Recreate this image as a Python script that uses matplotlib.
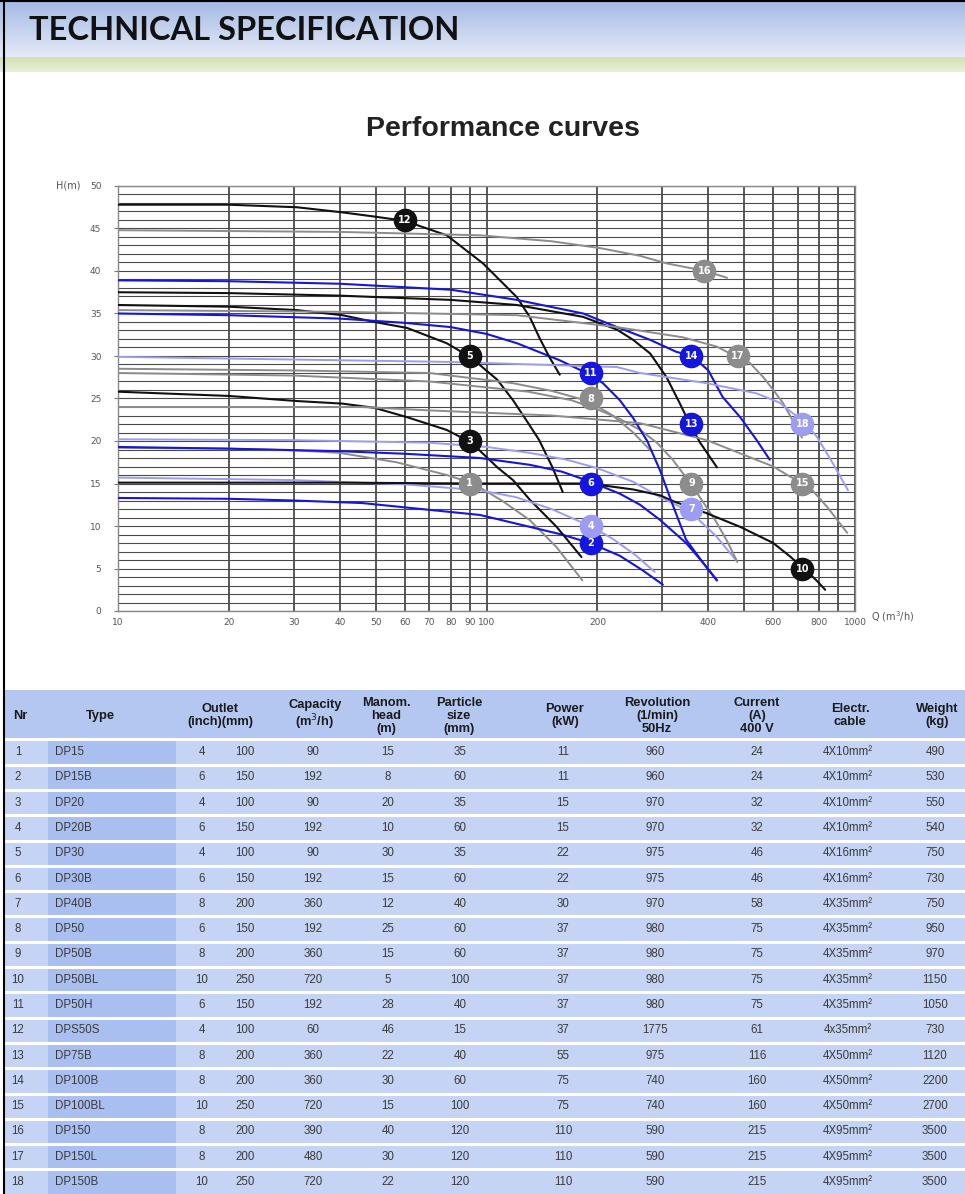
import numpy as np
import matplotlib
matplotlib.use("Agg")
import matplotlib.pyplot as plt
from matplotlib.ticker import LogLocator, MultipleLocator, NullFormatter
from matplotlib.patches import Rectangle

# ---------------- data ----------------
nr = list(range(1, 19))
types = ["DP15", "DP15B", "DP20", "DP20B", "DP30", "DP30B", "DP40B", "DP50", "DP50B",
         "DP50BL", "DP50H", "DPS50S", "DP75B", "DP100B", "DP100BL", "DP150", "DP150L", "DP150B"]
outlet_inch = [4, 6, 4, 6, 4, 6, 8, 6, 8, 10, 6, 4, 8, 8, 10, 8, 8, 10]
outlet_mm = [100, 150, 100, 150, 100, 150, 200, 150, 200, 250, 150, 100, 200, 200, 250, 200, 200, 250]
capacity = [90, 192, 90, 192, 90, 192, 360, 192, 360, 720, 192, 60, 360, 360, 720, 390, 480, 720]
head = [15, 8, 20, 10, 30, 15, 12, 25, 15, 5, 28, 46, 22, 30, 15, 40, 30, 22]
particle = [35, 60, 35, 60, 35, 60, 40, 60, 60, 100, 40, 15, 40, 60, 100, 120, 120, 120]
power = [11, 11, 15, 15, 22, 22, 30, 37, 37, 37, 37, 37, 55, 75, 75, 110, 110, 110]
revolution = [960, 960, 970, 970, 975, 975, 970, 980, 980, 980, 980, 1775, 975, 740, 740, 590, 590, 590]
current = [24, 24, 32, 32, 46, 46, 58, 75, 75, 75, 75, 61, 116, 160, 160, 215, 215, 215]
cable = ["4X10mm²", "4X10mm²", "4X10mm²", "4X10mm²", "4X16mm²", "4X16mm²", "4X35mm²", "4X35mm²",
         "4X35mm²", "4X35mm²", "4X35mm²", "4x35mm²", "4X50mm²", "4X50mm²", "4X50mm²", "4X95mm²",
         "4X95mm²", "4X95mm²"]
weight = [490, 530, 550, 540, 750, 730, 750, 950, 970, 1150, 1050, 730, 1120, 2200, 2700, 3500, 3500, 3500]

headers = ["Nr", "Type", "Outlet\n(inch)(mm)", "Capacity\n(m$^3$/h)", "Manom.\nhead\n(m)",
           "Particle\nsize\n(mm)", "Power\n(kW)", "Revolution\n(1/min)\n50Hz", "Current\n(A)\n400 V",
           "Electr.\ncable", "Weight\n(kg)"]

# performance curves (Q m3/h, H m)
curve_Q = {
    1: [10, 20, 30, 40, 57, 78, 92, 110, 131, 155, 182],
    2: [10, 20, 30, 46, 70, 96, 131, 160, 191, 230, 265, 301],
    3: [10, 20, 30.6, 40.6, 49.7, 60.9, 78, 91, 107, 118, 131, 155, 181],
    4: [10, 30, 60, 96, 120, 150, 191, 220, 255, 286],
    5: [10, 20, 30.6, 40.6, 49.7, 60.9, 78, 91, 98, 107, 118, 128, 139, 151, 161],
    6: [10, 20, 40, 60, 96, 131, 160, 189, 230, 261, 296, 348, 385, 422],
    7: [10, 30, 70, 100, 131, 165, 200, 250, 296, 330, 361, 420, 479],
    8: [10, 30, 70, 118, 150, 189, 220, 250, 280],
    9: [10, 30, 70, 130, 170, 203, 230, 261, 290, 320, 361, 390, 420, 450, 479],
    10: [10, 40, 92, 189, 250, 296, 322, 396, 488, 600, 667, 736, 790, 830],
    11: [10, 20, 40, 60, 80, 100, 121, 158, 191, 207, 230, 250, 273, 296, 320, 348, 385, 422],
    12: [10, 20, 30.6, 40.6, 49.7, 60, 78, 97.8, 108.8, 121, 131, 139, 148, 158],
    13: [10, 20, 40, 80, 121, 183, 226, 250, 278, 308, 334, 357, 380, 422],
    14: [10, 20, 40, 80, 121, 183, 226, 278, 327, 361, 400, 437, 488, 541, 587],
    15: [10, 46, 70, 150, 261, 396, 600, 667, 745, 842, 952],
    16: [10, 40, 96, 150, 203, 260, 308, 392, 450],
    17: [10, 40, 121, 226, 341, 422, 472, 518, 564, 600, 637, 676, 718],
    18: [10, 80, 226, 261, 396, 541, 625, 676, 720, 788, 870, 957],
}
curve_H = {
    1: [19.2, 19.1, 18.9, 18.6, 17.5, 16.0, 15.0, 13.0, 10.7, 7.5, 3.6],
    2: [13.3, 13.2, 13.0, 12.7, 11.9, 11.3, 9.9, 9.0, 8.0, 6.5, 4.8, 3.1],
    3: [25.8, 25.3, 24.7, 24.4, 23.9, 22.8, 21.3, 19.8, 16.9, 15.4, 13.1, 9.9, 6.35],
    4: [15.7, 15.4, 14.9, 14.2, 13.4, 12.0, 10.0, 8.5, 6.5, 4.6],
    5: [36.0, 35.8, 35.4, 34.8, 34.0, 33.3, 31.5, 29.8, 28.6, 27.2, 24.8, 22.5, 20.1, 16.9, 14.0],
    6: [19.3, 19.1, 18.8, 18.5, 18.0, 17.2, 16.4, 15.3, 13.8, 12.5, 10.7, 8.0, 5.8, 3.6],
    7: [20.2, 20.1, 19.8, 19.3, 18.6, 17.8, 16.8, 15.2, 13.4, 12.4, 11.5, 8.8, 5.8],
    8: [28.5, 28.3, 28.0, 26.8, 25.9, 24.7, 23.0, 21.0, 18.8],
    9: [28.0, 27.7, 27.0, 25.8, 24.8, 23.6, 22.6, 21.3, 19.8, 17.8, 14.8, 12.6, 10.5, 8.2, 5.8],
    10: [15.1, 15.1, 15.0, 15.0, 14.3, 13.6, 12.9, 11.5, 9.9, 8.0, 6.4, 4.8, 3.5, 2.5],
    11: [35.0, 34.8, 34.4, 33.9, 33.4, 32.6, 31.5, 29.5, 27.8, 26.8, 24.8, 22.7, 20.0, 16.5, 12.5, 8.4, 5.8, 3.6],
    12: [47.8, 47.8, 47.5, 46.9, 46.4, 45.9, 44.2, 40.9, 38.9, 36.9, 34.6, 32.2, 29.9, 27.8],
    13: [37.5, 37.4, 37.1, 36.6, 36.0, 34.6, 33.1, 31.9, 30.3, 27.5, 24.5, 21.9, 19.8, 16.9],
    14: [38.9, 38.8, 38.5, 37.8, 36.6, 35.0, 33.4, 31.9, 30.5, 30.0, 28.3, 25.2, 22.8, 20.1, 17.8],
    15: [24.0, 24.0, 23.6, 23.0, 22.1, 20.1, 17.0, 15.8, 14.8, 12.2, 9.2],
    16: [44.8, 44.6, 44.2, 43.5, 42.7, 41.8, 40.9, 40.0, 39.2],
    17: [35.4, 35.2, 34.8, 33.4, 32.2, 31.1, 30.0, 29.2, 27.5, 26.0, 24.5, 22.5, 20.4],
    18: [29.9, 29.3, 28.7, 28.0, 26.8, 25.6, 24.5, 23.3, 22.5, 20.5, 17.4, 14.2],
}
curve_kind = {1: "g", 2: "b", 3: "k", 4: "lb", 5: "k", 6: "b", 7: "lb", 8: "g", 9: "g",
              10: "k", 11: "b", 12: "k", 13: "k", 14: "b", 15: "g", 16: "g", 17: "g", 18: "lb"}
label_kind = dict(curve_kind)
label_kind[13] = "b"

xtick_vals = [10, 20, 30, 40, 50, 60, 70, 80, 90, 100, 200, 400, 600, 800, 1000]
xtick_labels = ["10", "20", "30", "40", "50", "60", "70", "80", "90", "100", "200", "400", "600", "800", "1000"]
ytick_vals = [0, 5, 10, 15, 20, 25, 30, 35, 40, 45, 50]

# ---------------- styles ----------------
COL = {"k": "#111111", "b": "#1515e0", "lb": "#9c9cf2", "g": "#8c8c8c"}
W, Hpx = 965, 1194
fig = plt.figure(figsize=(W / 100, Hpx / 100), dpi=100)
fig.patch.set_facecolor("white")

bg = fig.add_axes([0, 0, 1, 1])
bg.set_xlim(0, W)
bg.set_ylim(Hpx, 0)
bg.axis("off")

# header gradients
top = np.array([163, 185, 228]) / 255
bot = np.array([228, 234, 246]) / 255
t = np.linspace(0, 1, 60)[:, None]
grad = (top[None, :] * (1 - t) + bot[None, :] * t)[:, None, :]
bg.imshow(grad, extent=(0, W, 57, 0), aspect="auto", zorder=0)
gtop = np.array([210, 225, 178]) / 255
gbot = np.array([232, 238, 215]) / 255
t2 = np.linspace(0, 1, 20)[:, None]
grad2 = (gtop[None, :] * (1 - t2) + gbot[None, :] * t2)[:, None, :]
bg.imshow(grad2, extent=(0, W, 72, 57), aspect="auto", zorder=0)
bg.plot([4, 4], [0, Hpx], color="black", lw=1.5, zorder=5)
bg.plot([0, W], [1, 1], color="black", lw=1.5, zorder=5)

bg.text(29, 30, "TECHNICAL SPECIFICATION", fontsize=23.5, fontweight="bold", family="Lato",
        va="center", ha="left", color="#111111")
bg.text(503, 129, "Performance curves", fontsize=20.5, fontweight="bold", family="Liberation Sans",
        va="center", ha="center", color="#222222")
bg.text(68, 185, "H(m)", fontsize=7, va="center", ha="center", color="#555555")
bg.text(893, 617, "Q (m$^3$/h)", fontsize=7, va="center", ha="center", color="#555555")

# ---------------- chart ----------------
ax = fig.add_axes([118 / W, 1 - 611 / Hpx, 737 / W, 425 / Hpx])
ax.set_xscale("log")
ax.set_xlim(10, 1000)
ax.set_ylim(0, 50)
ax.xaxis.set_minor_locator(LogLocator(base=10, subs=np.arange(1, 10)))
ax.xaxis.set_minor_formatter(NullFormatter())
ax.set_xticks(xtick_vals)
ax.set_xticklabels(xtick_labels)
ax.set_yticks(ytick_vals)
ax.yaxis.set_minor_locator(MultipleLocator(1))
ax.tick_params(axis="both", which="major", labelsize=6.5, labelcolor="#555555", color="#777777", length=3)
ax.tick_params(axis="x", which="major", pad=5, length=0)
ax.tick_params(axis="y", which="major", pad=9)
ax.tick_params(which="minor", length=0)
ax.grid(axis="x", which="both", color="#2a2a2a", lw=1.1)
ax.grid(axis="y", which="both", color="#4a4a4a", lw=0.8)
for s in ax.spines.values():
    s.set_color("#888888")
    s.set_linewidth(1.0)
ax.set_axisbelow(True)

for k in nr:
    kind = curve_kind[k]
    lw = 1.5 if kind in ("k", "b") else 1.4
    ax.plot(curve_Q[k], curve_H[k], color=COL[kind], lw=lw, zorder=3,
            solid_capstyle="round", solid_joinstyle="round")
for i, k in enumerate(nr):
    lk = label_kind[k]
    ax.plot([capacity[i]], [head[i]], marker="o", ms=16, mfc=COL[lk], mec=COL[lk], zorder=5)
    ax.text(capacity[i], head[i], str(k), color="white", fontsize=7, fontweight="bold",
            ha="center", va="center", zorder=6)

# ---------------- table ----------------
row_h = 25.3
row0 = 752.0
hdr_top, hdr_bot = 690, row0 - row_h / 2
bg.add_patch(Rectangle((5, hdr_top), W - 5, hdr_bot - hdr_top, facecolor="#b3c7f1", edgecolor="none", zorder=1))
for i in range(len(nr)):
    yc = row0 + i * row_h
    y0 = yc - row_h / 2
    bg.add_patch(Rectangle((5, y0), W - 5, row_h, facecolor="#c5d4f5", edgecolor="none", zorder=1))
    bg.add_patch(Rectangle((48, y0), 128, row_h, facecolor="#a9bff0", edgecolor="none", zorder=1))
    bg.plot([5, W], [y0, y0], color="white", lw=2.2, zorder=2)

col_x = [20, 100, 220, 315, 386, 459, 565, 657, 757, 850, 937]
for x, h in zip(col_x, headers):
    bg.text(x, (hdr_top + hdr_bot) / 2 + 1, h, fontsize=9.3, fontweight="bold", family="Liberation Sans",
            ha="center", va="center", color="#1a1a1a", linespacing=1.1, zorder=3)

tc = "#3a3a3a"
fs = 8.3
for i in range(len(nr)):
    yc = row0 + i * row_h
    kw = dict(fontsize=fs, family="Liberation Sans", va="center", color=tc, zorder=3)
    bg.text(18, yc, str(nr[i]), ha="center", **kw)
    bg.text(55, yc, types[i], ha="left", **kw)
    bg.text(202, yc, str(outlet_inch[i]), ha="center", **kw)
    bg.text(245, yc, str(outlet_mm[i]), ha="center", **kw)
    bg.text(313, yc, str(capacity[i]), ha="center", **kw)
    bg.text(388, yc, str(head[i]), ha="center", **kw)
    bg.text(460, yc, str(particle[i]), ha="center", **kw)
    bg.text(563, yc, str(power[i]), ha="center", **kw)
    bg.text(655, yc, str(revolution[i]), ha="center", **kw)
    bg.text(757, yc, str(current[i]), ha="center", **kw)
    bg.text(848, yc, cable[i], ha="center", **kw)
    bg.text(935, yc, str(weight[i]), ha="center", **kw)

fig.savefig("out.png", dpi=100, facecolor="white")
